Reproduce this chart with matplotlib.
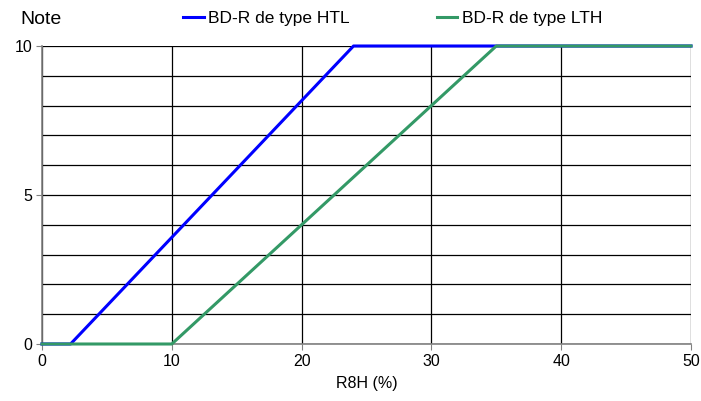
import numpy as np
import matplotlib.pyplot as plt
from matplotlib.ticker import MultipleLocator

plt.rcParams["font.family"] = ["Liberation Sans", "DejaVu Sans"]

# data
htl_x = [0, 2.2, 24, 50]
htl_y = [0, 0, 10, 10]
lth_x = [0, 10, 35, 50]
lth_y = [0, 0, 10, 10]
labels = ["BD-R de type HTL", "BD-R de type LTH"]
colors = ["#0000ff", "#339966"]

fig = plt.figure(figsize=(7.01, 4.01), dpi=100)
ax = fig.add_axes([42 / 701, 57 / 401, 649 / 701, 298 / 401])

ax.set_xlim(0, 50)
ax.set_ylim(0, 10)
ax.xaxis.set_major_locator(MultipleLocator(10))
ax.yaxis.set_major_locator(MultipleLocator(5))
ax.yaxis.set_minor_locator(MultipleLocator(1))
ax.grid(True, which="both", axis="y", color="black", lw=0.9)
ax.grid(True, which="major", axis="x", color="black", lw=0.9)
ax.tick_params(which="minor", length=0)
ax.tick_params(which="major", length=4, color="#808080", labelsize=11.5, pad=3)
for side in ["top", "right"]:
    ax.spines[side].set_visible(False)
for side in ["left", "bottom"]:
    ax.spines[side].set_color("#808080")
    ax.spines[side].set_linewidth(1.2)
ax.set_axisbelow(True)

l1, = ax.plot(htl_x, htl_y, color=colors[0], lw=2.2, clip_on=False, zorder=3)
l2, = ax.plot(lth_x, lth_y, color=colors[1], lw=2.2, clip_on=False, zorder=4)

ax.set_xlabel("R8H (%)", fontsize=11.5, labelpad=5)
fig.text(20 / 701, 1 - 19 / 401, "Note", fontsize=14, ha="left", va="center")

fig.legend([l1, l2], labels, loc="center left", bbox_to_anchor=(183 / 701, 1 - 18 / 401),
           ncol=2, frameon=False, fontsize=12.5, handlelength=1.2, borderpad=0,
           borderaxespad=0, handletextpad=0.25, columnspacing=5.0)

fig.savefig("out.png", dpi=100)
